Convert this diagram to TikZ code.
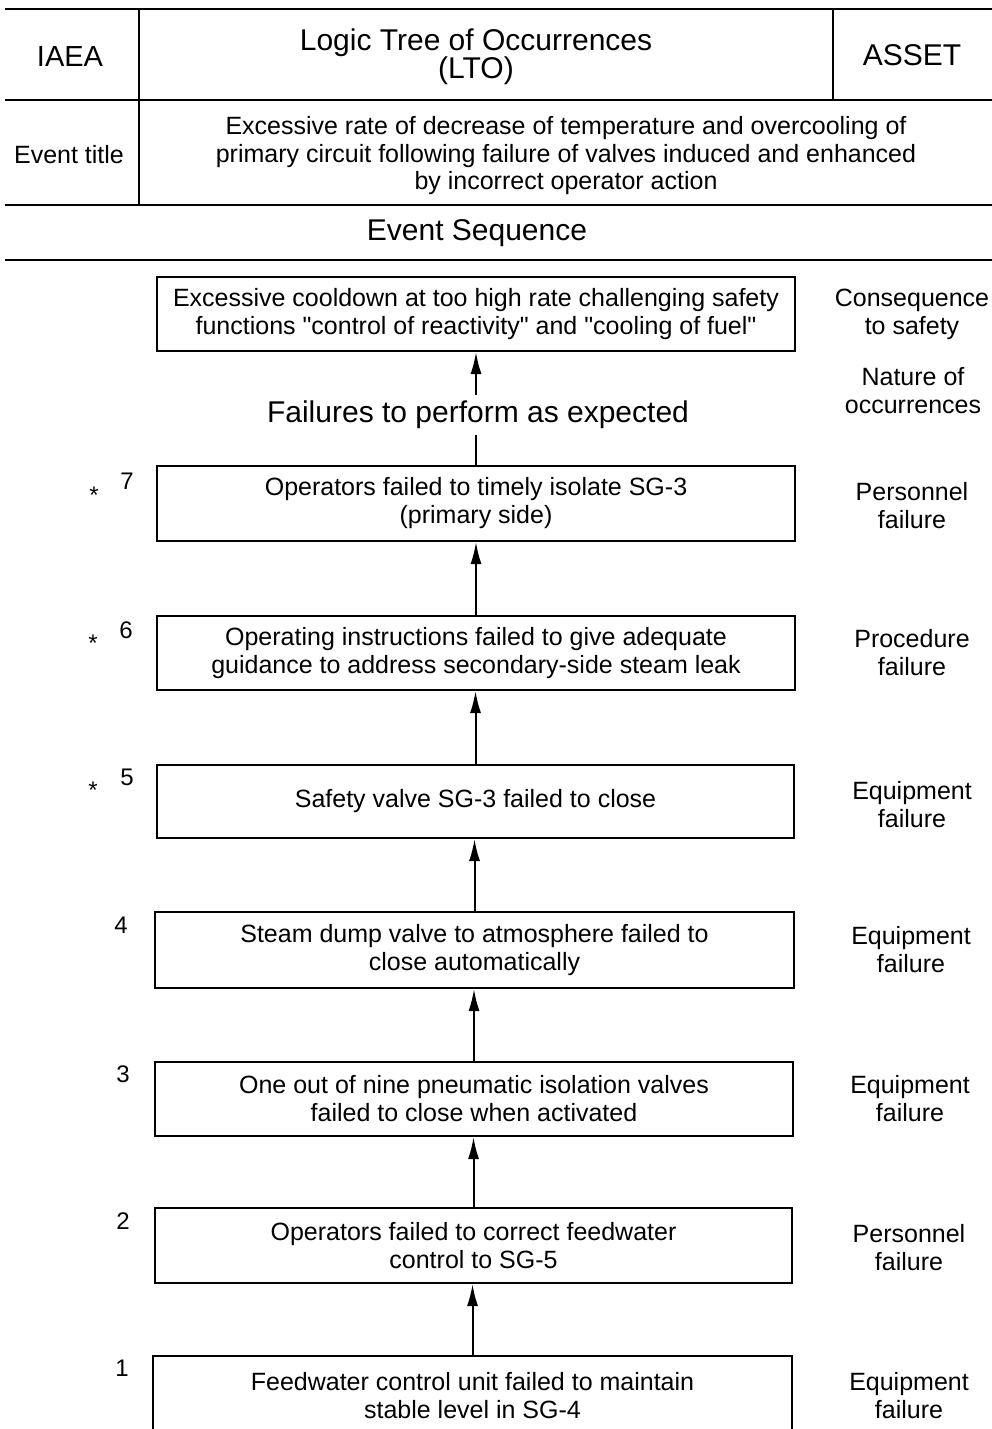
\documentclass[tikz,border=0pt]{standalone}
\usepackage{fontspec}
\setmainfont{Liberation Sans}[Ligatures=TeXOff]
\usetikzlibrary{arrows.meta}
\begin{document}
\begin{tikzpicture}[x=1pt,y=-1pt,
 box/.style={draw,line width=2pt,align=center,font=\fontsize{25}{28}\selectfont,inner sep=0pt},
 lbl/.style={align=center,font=\fontsize{25}{28}\selectfont,inner sep=0pt},
 big/.style={align=center,font=\fontsize{30}{28}\selectfont,inner sep=0pt},
 num/.style={font=\fontsize{24}{28}\selectfont,inner sep=0pt},
 arr/.style={line width=2pt,-{Latex[length=22pt,width=11pt]}},
 plain/.style={line width=2pt},
 hrule/.style={line width=2.6pt},
 vrule/.style={line width=1.8pt}]
\clip (0,0) rectangle (992,1429);
% header rules
\coordinate (h1l) at (5,9);   \coordinate (h1r) at (992,9);
\coordinate (h2l) at (5,100); \coordinate (h2r) at (992,100);
\coordinate (h3l) at (5,205); \coordinate (h3r) at (992,205);
\coordinate (h4l) at (5,260); \coordinate (h4r) at (992,260);
\coordinate (v1t) at (139,9); \coordinate (v1b) at (139,205);
\coordinate (v2t) at (833,9); \coordinate (v2b) at (833,100);
\draw[hrule] (h1l) -- (h1r);
\draw[hrule] (h2l) -- (h2r);
\draw[hrule] (h3l) -- (h3r);
\draw[hrule] (h4l) -- (h4r);
\draw[vrule] (v1t) -- (v1b);
\draw[vrule] (v2t) -- (v2b);
% header texts
\node[big,font=\fontsize{29}{28}\selectfont] (iaea) at (70,57) {IAEA};
\node[big] (lto) at (476,57) {Logic Tree of Occurrences\\(LTO)};
\node[big] (asset) at (912,55) {ASSET};
\node[lbl] (evt) at (69,155) {Event title};
\node[lbl,font=\fontsize{25}{27.5}\selectfont] (title) at (566,156) {Excessive rate of decrease of temperature and overcooling of\\primary circuit following failure of valves induced and enhanced\\by incorrect operator action};
\node[big] (seq) at (477,233) {Event Sequence};
% boxes
\node[box,minimum width=638pt,minimum height=74pt] (top) at (476,314) {Excessive cooldown at too high rate challenging safety\\functions "control of reactivity" and "cooling of fuel"};
\node[big,inner sep=6pt] (fail) at (478,415) {Failures to perform as expected};
\node[box,minimum width=638pt,minimum height=75pt] (b7) at (476,503.5) {Operators failed to timely isolate SG-3\\(primary side)};
\node[box,minimum width=638pt,minimum height=74pt] (b6) at (476,653) {Operating instructions failed to give adequate\\guidance to address secondary-side steam leak};
\node[box,minimum width=637pt,minimum height=73pt] (b5) at (475.5,801.5) {Safety valve SG-3 failed to close};
\node[box,minimum width=639pt,minimum height=76pt] (b4) at (474.5,950) {Steam dump valve to atmosphere failed to\\close automatically};
\node[box,minimum width=638pt,minimum height=74pt] (b3) at (474,1099) {One out of nine pneumatic isolation valves\\failed to close when activated};
\node[box,minimum width=637pt,minimum height=75pt] (b2) at (473.5,1245.5) {Operators failed to correct feedwater\\control to SG-5};
\node[box,minimum width=639pt,minimum height=80pt] (b1) at (472.5,1396) {Feedwater control unit failed to maintain\\stable level in SG-4};
% connectors
\draw[plain] (b7.north) -- (b7.north |- fail.south);
\draw[arr] (b7.north |- fail.north) -- (b7.north |- top.south);
\draw[arr] (b6.north) -- (b6.north |- b7.south);
\draw[arr] (b5.north) -- (b5.north |- b6.south);
\draw[arr] (b4.north) -- (b4.north |- b5.south);
\draw[arr] (b3.north) -- (b3.north |- b4.south);
\draw[arr] (b2.north) -- (b2.north |- b3.south);
\draw[arr] (b1.north) -- (b1.north |- b2.south);
% right labels
\node[lbl] (r0) at (912,314) {Consequence\\to safety};
\node[lbl] (r1) at (913,391) {Nature of\\occurrences};
\node[lbl] (r7) at (912,506) {Personnel\\failure};
\node[lbl] (r6) at (912,653) {Procedure\\failure};
\node[lbl] (r5) at (912,805) {Equipment\\failure};
\node[lbl] (r4) at (911,950) {Equipment\\failure};
\node[lbl] (r3) at (910,1099) {Equipment\\failure};
\node[lbl] (r2) at (909,1248) {Personnel\\failure};
\node[lbl] (r1b) at (909,1396) {Equipment\\failure};
% numbers
\node[num] (n7) at (127,481) {7};
\node[num] (s7) at (94,495) {*};
\node[num] (n6) at (126,630) {6};
\node[num] (s6) at (93,643) {*};
\node[num] (n5) at (127,777) {5};
\node[num] (s5) at (93,790) {*};
\node[num] (n4) at (121,925) {4};
\node[num] (n3) at (123,1074) {3};
\node[num] (n2) at (123,1221) {2};
\node[num] (n1) at (122,1368) {1};
\end{tikzpicture}
\end{document}
